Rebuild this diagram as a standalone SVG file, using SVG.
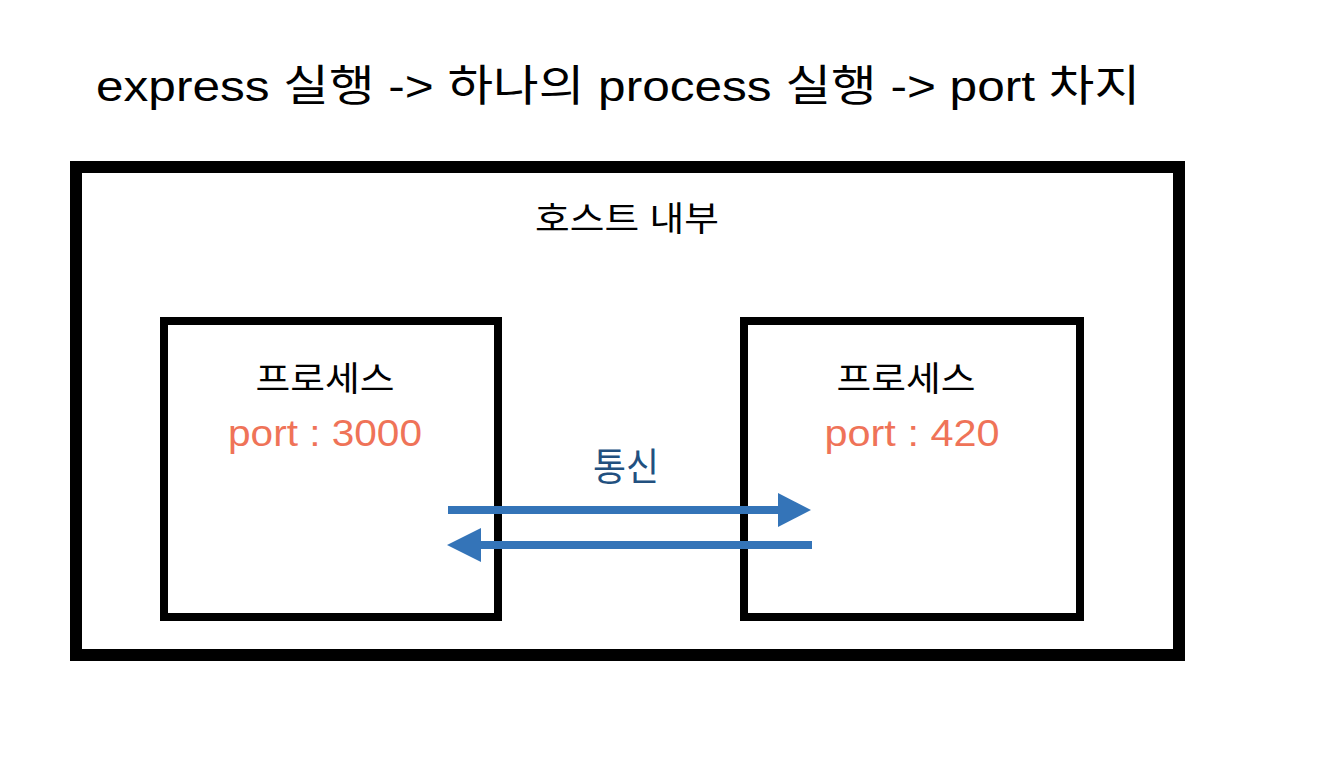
<svg xmlns="http://www.w3.org/2000/svg" width="1340" height="776" viewBox="0 0 1340 776">
<style>
text{font-family:"Liberation Sans","Noto Sans CJK KR",sans-serif;text-anchor:middle}
.title{font-size:43px;fill:#000;text-anchor:start}
.lbl{font-size:34px;fill:#000}
.port{font-size:36px;fill:#EF7358}
.comm{font-size:38px;fill:#22507F}
.box{fill:none;stroke:#000}
.arr{stroke:#3474B8;stroke-width:8;fill:none}
</style>
<rect width="1340" height="776" fill="#fff"/>
<text class="title" x="96" y="101" textLength="1044" lengthAdjust="spacingAndGlyphs">express 실행 -&gt; 하나의 process 실행 -&gt; port 차지</text>
<g id="host">
<rect class="box" x="76" y="167" width="1103" height="488" stroke-width="12"/>
<text class="lbl" x="627" y="231" textLength="184" lengthAdjust="spacingAndGlyphs">호스트 내부</text>
</g>
<g id="proc1">
<rect class="box" x="164" y="321" width="334" height="296" stroke-width="8"/>
<text class="lbl" x="325" y="391" textLength="139" lengthAdjust="spacingAndGlyphs">프로세스</text>
<text class="port" x="325" y="446" textLength="194" lengthAdjust="spacingAndGlyphs">port : 3000</text>
</g>
<g id="proc2">
<rect class="box" x="744" y="321" width="336" height="296" stroke-width="8"/>
<text class="lbl" x="906" y="391" textLength="139" lengthAdjust="spacingAndGlyphs">프로세스</text>
<text class="port" x="912" y="446" textLength="175" lengthAdjust="spacingAndGlyphs">port : 420</text>
</g>
<g id="connectors">
<text class="comm" x="626" y="480" textLength="66" lengthAdjust="spacingAndGlyphs">통신</text>
<line class="arr" x1="448" y1="510" x2="780" y2="510"/>
<polygon points="778,493 811,510 778,527" fill="#3474B8"/>
<line class="arr" x1="812" y1="545" x2="479" y2="545"/>
<polygon points="481,528 447,545 481,562" fill="#3474B8"/>
</g>
</svg>
